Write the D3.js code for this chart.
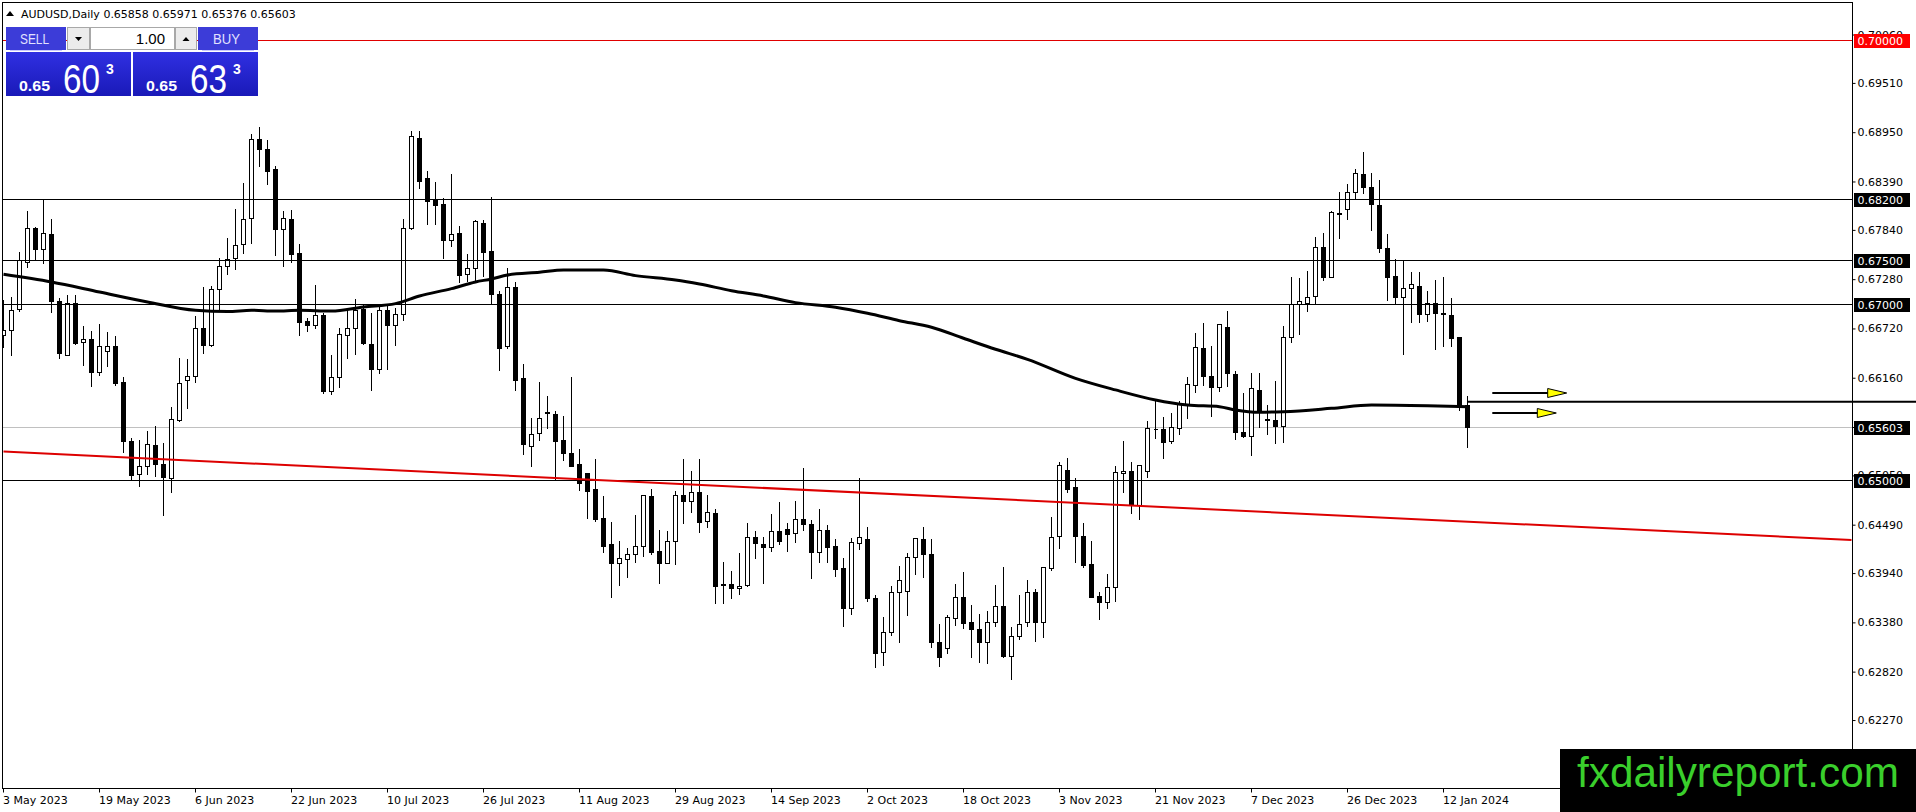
<!DOCTYPE html>
<html>
<head>
<meta charset="utf-8">
<script src="https://cdn.jsdelivr.net/npm/d3@7"></script>
<style>
  body { margin: 0; background: #fff; overflow: hidden; }
  svg { display: block; font-family: "DejaVu Sans", sans-serif; }
</style>
</head>
<body>
<svg id="chart"></svg>
<script>
// AUDUSD daily bars, 3 May 2023 .. 17 Jan 2024
const dateLabels = ["3 May 2023", "19 May 2023", "6 Jun 2023", "22 Jun 2023", "10 Jul 2023", "26 Jul 2023",
  "11 Aug 2023", "29 Aug 2023", "14 Sep 2023", "2 Oct 2023", "18 Oct 2023", "3 Nov 2023",
  "21 Nov 2023", "7 Dec 2023", "26 Dec 2023", "12 Jan 2024"];
const labelStep = 12;

const opens = [
  0.66648,0.66712,0.66947,0.67481,0.67871,0.67633,0.67803,0.67042,0.66428,0.67019,
  0.66576,0.66610,0.66231,0.66473,0.66530,0.66121,0.65447,0.65076,0.65167,0.65398,
  0.65189,0.65030,0.65689,0.66144,0.66189,0.66735,0.66542,0.67178,0.67436,0.67523,
  0.67689,0.67985,0.68875,0.68769,0.68534,0.67860,0.67973,0.67587,0.66807,0.66769,
  0.66883,0.66015,0.66174,0.66655,0.66735,0.66951,0.66553,0.66269,0.66932,0.66769,
  0.66886,0.67871,0.68894,0.68439,0.68193,0.68136,0.67735,0.67814,0.67348,0.67417,
  0.67928,0.67602,0.67114,0.66530,0.67193,0.66159,0.65394,0.65534,0.65780,0.65750,
  0.65458,0.65307,0.65182,0.65080,0.64902,0.64568,0.64277,0.64057,0.64102,0.64159,
  0.64254,0.64822,0.64197,0.64057,0.64314,0.64833,0.64769,0.64864,0.64542,0.64625,
  0.63818,0.63822,0.63780,0.63811,0.64360,0.64273,0.64239,0.64424,0.64443,0.64398,
  0.64557,0.64500,0.64182,0.64436,0.64254,0.64000,0.63545,0.64284,0.64333,0.63659,
  0.63045,0.63273,0.63727,0.63746,0.64125,0.64333,0.64163,0.63159,0.63091,0.63432,
  0.63670,0.63386,0.63307,0.63159,0.63386,0.63572,0.63002,0.63235,0.63386,0.63727,
  0.63394,0.64000,0.64371,0.65117,0.64920,0.64367,0.64049,0.63686,0.63614,0.63792,
  0.65080,0.65106,0.64720,0.65110,0.65587,0.65583,0.65447,0.65591,0.65856,0.66083,
  0.66500,0.66186,0.66064,0.66739,0.66205,0.65545,0.65508,0.66027,0.65697,0.65686,
  0.65621,0.66633,0.67000,0.67019,0.67095,0.67648,0.67314,0.68038,0.68080,0.68273,
  0.68481,0.68330,0.68129,0.67636,0.67322,0.67087,0.67182,0.67212,0.66886,0.67011,
  0.66898,0.66879,0.66625,0.65858
];
const highs = [
  0.67064,0.67091,0.67602,0.68068,0.67894,0.68212,0.67985,0.67083,0.67114,0.67121,
  0.66761,0.66705,0.66784,0.66701,0.66648,0.66182,0.65492,0.65473,0.65568,0.65625,
  0.65432,0.65841,0.66402,0.66394,0.66883,0.67205,0.67220,0.67538,0.67761,0.68098,
  0.68390,0.68951,0.69023,0.68875,0.68580,0.68076,0.68087,0.67697,0.66856,0.67235,
  0.66913,0.66432,0.66742,0.66932,0.67076,0.67015,0.66913,0.66989,0.66989,0.66970,
  0.67985,0.68977,0.68977,0.68523,0.68398,0.68220,0.68496,0.67905,0.67583,0.67973,
  0.67966,0.68231,0.67163,0.67420,0.67265,0.66330,0.65716,0.66129,0.65970,0.65799,
  0.65742,0.66186,0.65364,0.65080,0.65258,0.64833,0.64538,0.64322,0.64246,0.64617,
  0.64845,0.64917,0.64447,0.64436,0.64890,0.65258,0.65117,0.65258,0.64845,0.64682,
  0.64083,0.63981,0.64182,0.64530,0.64436,0.64371,0.64625,0.64765,0.64523,0.64777,
  0.65148,0.64561,0.64682,0.64500,0.64341,0.64133,0.64352,0.65034,0.64481,0.63708,
  0.63458,0.63811,0.64038,0.64189,0.64360,0.64481,0.64348,0.63383,0.63481,0.63830,
  0.63970,0.63595,0.63489,0.63527,0.63822,0.64027,0.63345,0.63705,0.63879,0.63780,
  0.64027,0.64595,0.65223,0.65269,0.65042,0.64523,0.64322,0.63742,0.63943,0.65174,
  0.65458,0.65223,0.65182,0.65686,0.65913,0.65731,0.65780,0.65913,0.66186,0.66682,
  0.66795,0.66538,0.66784,0.66936,0.66254,0.66000,0.66227,0.66227,0.65864,0.66140,
  0.66765,0.67322,0.67314,0.67390,0.67777,0.67818,0.68072,0.68288,0.68375,0.68553,
  0.68742,0.68508,0.68420,0.67814,0.67523,0.67515,0.67379,0.67379,0.67163,0.67288,
  0.67322,0.67087,0.66640,0.65971
];
const lows = [
  0.66515,0.66428,0.66924,0.67424,0.67500,0.67470,0.66913,0.66390,0.66420,0.66545,
  0.66314,0.66072,0.66201,0.66299,0.66087,0.65322,0.65011,0.64936,0.65068,0.65049,
  0.64610,0.64867,0.65670,0.65822,0.66117,0.66447,0.66523,0.66932,0.67348,0.67398,
  0.67583,0.67697,0.68572,0.68371,0.67557,0.67436,0.67481,0.66655,0.66697,0.66735,
  0.65992,0.65985,0.66061,0.66394,0.66439,0.66545,0.66023,0.66223,0.66269,0.66534,
  0.66826,0.67860,0.68322,0.67909,0.67917,0.67530,0.67663,0.67254,0.67265,0.67280,
  0.67322,0.67000,0.66254,0.66508,0.66027,0.65299,0.65167,0.65458,0.65591,0.65000,
  0.65231,0.65167,0.64890,0.64568,0.64542,0.64189,0.63678,0.63811,0.63905,0.64068,
  0.64144,0.64159,0.63837,0.64057,0.64045,0.64519,0.64644,0.64417,0.64473,0.63610,
  0.63602,0.63659,0.63708,0.63803,0.64114,0.63830,0.64201,0.64273,0.64201,0.64303,
  0.64436,0.63886,0.64068,0.64076,0.63913,0.63348,0.63481,0.64220,0.63633,0.62883,
  0.62902,0.63242,0.63159,0.63470,0.63932,0.63905,0.63102,0.62894,0.63034,0.63356,
  0.63318,0.62989,0.62939,0.62920,0.63345,0.62991,0.62742,0.63197,0.63345,0.63178,
  0.63216,0.63981,0.64227,0.64864,0.64068,0.64011,0.63670,0.63420,0.63545,0.63629,
  0.64864,0.64633,0.64557,0.65042,0.65477,0.65250,0.65428,0.65527,0.65705,0.66000,
  0.66083,0.65735,0.66019,0.66072,0.65470,0.65496,0.65288,0.65610,0.65527,0.65428,
  0.65439,0.66576,0.66663,0.66928,0.67011,0.67277,0.67314,0.67758,0.67970,0.68205,
  0.68269,0.67845,0.67598,0.67049,0.67000,0.66432,0.66803,0.66803,0.66811,0.66492,
  0.66530,0.66530,0.65799,0.65376
];
const closes = [
  0.66712,0.66939,0.67508,0.67871,0.67633,0.67814,0.67038,0.66447,0.67015,0.66561,
  0.66610,0.66231,0.66530,0.66530,0.66106,0.65447,0.65064,0.65167,0.65409,0.65189,
  0.65038,0.65701,0.66106,0.66189,0.66735,0.66542,0.67178,0.67436,0.67515,0.67678,
  0.67973,0.68875,0.68769,0.68515,0.67860,0.67985,0.67576,0.66799,0.66769,0.66883,
  0.66015,0.66174,0.66667,0.66735,0.66939,0.66561,0.66269,0.66932,0.66769,0.66886,
  0.67871,0.68909,0.68402,0.68174,0.68133,0.67735,0.67803,0.67330,0.67417,0.67943,
  0.67595,0.67114,0.66508,0.67193,0.66140,0.65409,0.65523,0.65705,0.65765,0.65451,
  0.65307,0.65167,0.64973,0.64883,0.64561,0.64258,0.64057,0.64114,0.64159,0.64254,
  0.64833,0.64189,0.64057,0.64311,0.64833,0.64769,0.64864,0.64530,0.64636,0.63803,
  0.63807,0.63773,0.63803,0.64360,0.64284,0.64239,0.64424,0.64314,0.64386,0.64557,
  0.64500,0.64182,0.64436,0.64246,0.63989,0.63545,0.64295,0.64352,0.63659,0.63034,
  0.63273,0.63727,0.63867,0.64125,0.64341,0.64159,0.63159,0.62989,0.63443,0.63670,
  0.63375,0.63307,0.63159,0.63386,0.63572,0.62998,0.63235,0.63364,0.63727,0.63394,
  0.64011,0.64360,0.65174,0.64902,0.64371,0.64038,0.63678,0.63621,0.63784,0.65091,
  0.65106,0.64720,0.65174,0.65591,0.65580,0.65439,0.65602,0.65864,0.66091,0.66511,
  0.66189,0.66064,0.66773,0.66216,0.65545,0.65508,0.66045,0.65792,0.65690,0.65621,
  0.66633,0.67000,0.67038,0.67080,0.67648,0.67314,0.68045,0.68030,0.68273,0.68489,
  0.68330,0.68136,0.67636,0.67314,0.67087,0.67182,0.67227,0.66886,0.67019,0.66898,
  0.66886,0.66621,0.65837,0.65603
];

// moving average, sampled along the drawn curve
const maBar = [0, 6, 12, 18, 24, 28, 31, 34, 37, 41, 45, 49, 52, 56, 59, 61, 63, 67, 70, 75, 79, 84, 87,
  91, 95, 99, 104, 108, 112, 116, 120, 124, 128, 134, 139, 144, 148, 152, 154, 157, 160, 166, 171, 178, 183];
const maValue = [0.67341, 0.67254, 0.67140, 0.67027, 0.66932, 0.66917, 0.66932, 0.66924, 0.66932, 0.66924,
  0.66970, 0.67008, 0.67095, 0.67178, 0.67254, 0.67288, 0.67333, 0.67364, 0.67390, 0.67390, 0.67326,
  0.67277, 0.67231, 0.67155, 0.67095, 0.67019, 0.66966, 0.66898, 0.66814, 0.66739, 0.66614, 0.66489,
  0.66375, 0.66159, 0.66027, 0.65913, 0.65856, 0.65837, 0.65799, 0.65773, 0.65780, 0.65818, 0.65856,
  0.65848, 0.65837];

const priceTicks = [0.70060, 0.69510, 0.68950, 0.68390, 0.67840, 0.67280, 0.66720, 0.66160, 0.65600,
  0.65050, 0.64490, 0.63940, 0.63380, 0.62820, 0.62270];
const blackLevels = [0.68200, 0.67500, 0.67000, 0.65000];
const redLevel = 0.70000;
const bidPrice = 0.65603;
const supportBar = 183;
const supportPrice = 0.65894;
const trendBars = [0, 231];
const trendPrices = [0.65326, 0.64322];
const arrowFrom = [186.1, 186.1];
const arrowTo = [195.4, 194.1];
const arrowPrices = [0.65995, 0.65765];
const header = "AUDUSD,Daily  0.65858 0.65971 0.65376 0.65603";

class CandleChart {
  constructor(_config) {
    this.config = {
      parentElement: _config.parentElement,
      containerWidth: _config.containerWidth || 1916,
      containerHeight: _config.containerHeight || 812,
      plot: { left: 2.5, top: 2.5, right: 1852.5, bottom: 788.5 }
    };
    this.bars = opens.map((o, i) => ({ i: i, o: o, h: highs[i], l: lows[i], c: closes[i] }));
    this.initVis();
  }

  initVis() {
    let vis = this;
    const p = vis.config.plot;

    vis.xScale = d3.scaleLinear().domain([0, labelStep]).range([3.5, 3.5 + 8 * labelStep]);
    vis.yScale = d3.scaleLinear().domain([0.65, 0.70]).range([480.3, 40.3]);
    const py = v => Math.round(vis.yScale(v)) + 0.5;

    vis.svg = d3.select(vis.config.parentElement)
      .attr('width', vis.config.containerWidth)
      .attr('height', vis.config.containerHeight);

    vis.svg.append('rect').attr('width', vis.config.containerWidth)
      .attr('height', vis.config.containerHeight).attr('fill', '#fff');

    vis.svg.append('clipPath').attr('id', 'plot-clip')
      .append('rect').attr('x', p.left + 0.5).attr('y', p.top + 0.5)
      .attr('width', p.right - p.left - 1).attr('height', p.bottom - p.top - 1);

    vis.chart = vis.svg.append('g').attr('clip-path', 'url(#plot-clip)');

    // bid line behind the bars
    vis.chart.append('line')
      .attr('x1', p.left).attr('x2', p.right)
      .attr('y1', py(bidPrice)).attr('y2', py(bidPrice))
      .attr('stroke', '#c0c0c0').attr('stroke-width', 1);

    // candles
    const candle = vis.chart.selectAll('.candle').data(vis.bars).join('g')
      .attr('class', 'candle').attr('shape-rendering', 'crispEdges');
    candle.append('line')
      .attr('x1', d => vis.xScale(d.i)).attr('x2', d => vis.xScale(d.i))
      .attr('y1', d => py(d.h)).attr('y2', d => py(d.l))
      .attr('stroke', '#000');
    candle.append('path')
      .attr('d', d => {
        const cx = vis.xScale(d.i);
        const t = py(Math.max(d.o, d.c)), b = py(Math.min(d.o, d.c));
        return `M${cx - 2},${t}H${cx + 2}V${b}H${cx - 2}Z`;
      })
      .attr('fill', d => d.c >= d.o ? '#fff' : '#000')
      .attr('stroke', '#000');

    // moving average
    vis.line = d3.line()
      .x(d => vis.xScale(d[0]))
      .y(d => vis.yScale(d[1]))
      .curve(d3.curveMonotoneX);
    vis.chart.append('path')
      .datum(maBar.map((b, k) => [b, maValue[k]]))
      .attr('fill', 'none').attr('stroke', '#000').attr('stroke-width', 3)
      .attr('d', vis.line);

    // horizontal levels
    vis.chart.selectAll('.level').data(blackLevels).join('line')
      .attr('class', 'level')
      .attr('x1', p.left).attr('x2', p.right)
      .attr('y1', d => py(d)).attr('y2', d => py(d))
      .attr('stroke', '#000').attr('stroke-width', 1);
    vis.chart.append('line')
      .attr('x1', p.left).attr('x2', p.right)
      .attr('y1', py(redLevel)).attr('y2', py(redLevel))
      .attr('stroke', '#e00000').attr('stroke-width', 1);

    // red trend line
    vis.chart.append('path')
      .datum(trendBars.map((b, k) => [b, trendPrices[k]]))
      .attr('fill', 'none').attr('stroke', '#dd0000').attr('stroke-width', 2)
      .attr('d', d3.line().x(d => vis.xScale(d[0])).y(d => vis.yScale(d[1])));

    // frame
    vis.svg.append('rect')
      .attr('x', p.left).attr('y', p.top)
      .attr('width', p.right - p.left).attr('height', p.bottom - p.top)
      .attr('fill', 'none').attr('stroke', '#000').attr('shape-rendering', 'crispEdges');

    // time axis
    vis.xAxis = d3.axisBottom(vis.xScale)
      .tickValues(dateLabels.map((d, k) => k * labelStep))
      .tickFormat((d, k) => dateLabels[k])
      .tickSize(4).tickSizeOuter(0).offset(0);
    vis.xAxisG = vis.svg.append('g')
      .attr('transform', `translate(0,${p.bottom})`)
      .call(vis.xAxis);
    vis.xAxisG.select('.domain').remove();
    vis.xAxisG.selectAll('line').attr('stroke', '#000');
    vis.xAxisG.selectAll('text')
      .attr('text-anchor', 'start').attr('x', -0.5).attr('y', 15.5).attr('dy', 0)
      .attr('fill', '#000').style('font-family', '"DejaVu Sans", sans-serif').style('font-size', '11px');

    // price axis
    vis.yAxis = d3.axisRight(vis.yScale)
      .tickValues(priceTicks)
      .tickFormat(d3.format('.5f'))
      .tickSize(3).tickSizeOuter(0).offset(0);
    vis.yAxisG = vis.svg.append('g')
      .attr('transform', `translate(${p.right},0)`)
      .call(vis.yAxis);
    vis.yAxisG.select('.domain').remove();
    vis.yAxisG.selectAll('line').attr('stroke', '#000');
    vis.yAxisG.selectAll('text')
      .attr('x', 5).attr('fill', '#000')
      .style('font-family', '"DejaVu Sans", sans-serif').style('font-size', '11px');

    // support line reaching over the price scale
    vis.svg.append('line')
      .attr('x1', vis.xScale(supportBar)).attr('x2', vis.config.containerWidth)
      .attr('y1', vis.yScale(supportPrice)).attr('y2', vis.yScale(supportPrice))
      .attr('stroke', '#000').attr('stroke-width', 2);

    // arrows
    arrowPrices.forEach((pr, k) => {
      const yy = Math.round(vis.yScale(pr));
      const x0 = vis.xScale(arrowFrom[k]), x1 = vis.xScale(arrowTo[k]);
      vis.svg.append('line')
        .attr('x1', x0).attr('x2', x1 - 18).attr('y1', yy).attr('y2', yy)
        .attr('stroke', '#000').attr('stroke-width', 2);
      vis.svg.append('polygon')
        .attr('points', `${x1 - 19},${yy - 4.5} ${x1},${yy} ${x1 - 19},${yy + 4.5}`)
        .attr('fill', '#ffff00').attr('stroke', '#000').attr('stroke-width', 1);
    });

    // level labels on the price scale
    const tags = blackLevels.map(v => ({ v: v, fill: '#000' }))
      .concat([{ v: bidPrice, fill: '#000' }, { v: redLevel, fill: '#ff0000' }]);
    const tag = vis.svg.selectAll('.tag').data(tags).join('g').attr('class', 'tag');
    tag.append('rect')
      .attr('x', p.right + 1.5).attr('width', 56)
      .attr('y', d => Math.round(vis.yScale(d.v)) - 6).attr('height', 14)
      .attr('fill', d => d.fill);
    tag.append('text')
      .attr('x', p.right + 5).attr('y', d => Math.round(vis.yScale(d.v)) + 5)
      .attr('fill', '#fff').style('font-size', '11px')
      .text(d => d3.format('.5f')(d.v));

    vis.drawHeader();
    vis.drawPanel();

    // watermark
    vis.svg.append('rect')
      .attr('x', 1560).attr('y', 749).attr('width', 356).attr('height', 63).attr('fill', '#000');
    vis.svg.append('text')
      .attr('x', 1577).attr('y', 787)
      .attr('textLength', 322).attr('lengthAdjust', 'spacingAndGlyphs')
      .style('font-family', '"Liberation Sans", Arial, sans-serif').style('font-size', '42px')
      .attr('fill', '#3acf2c')
      .text('fxdailyreport.com');
  }

  drawHeader() {
    let vis = this;
    vis.svg.append('polygon').attr('points', '6,16 14,16 10,11').attr('fill', '#000');
    vis.svg.append('text')
      .attr('x', 21).attr('y', 17.5)
      .style('font-size', '11px').attr('fill', '#000')
      .attr('xml:space', 'preserve')
      .text(header.replace('  ', ' '));
  }

  drawPanel() {
    let vis = this;
    const g = vis.svg.append('g').style('font-family', '"Liberation Sans", Arial, sans-serif');

    const grad = vis.svg.append('defs').append('linearGradient')
      .attr('id', 'price-grad').attr('x1', 0).attr('x2', 0).attr('y1', 0).attr('y2', 1);
    grad.append('stop').attr('offset', '0%').attr('stop-color', '#3030e2');
    grad.append('stop').attr('offset', '100%').attr('stop-color', '#1a1ab8');

    // top row
    g.append('rect').attr('x', 6).attr('y', 27).attr('width', 60).attr('height', 23).attr('fill', '#3c3cd8');
    g.append('rect').attr('x', 198).attr('y', 27).attr('width', 60).attr('height', 23).attr('fill', '#3c3cd8');
    g.append('line').attr('x1', 10).attr('x2', 62).attr('y1', 50.5).attr('y2', 50.5).attr('stroke', '#c8c8ff');
    g.append('line').attr('x1', 202).attr('x2', 254).attr('y1', 50.5).attr('y2', 50.5).attr('stroke', '#c8c8ff');
    g.append('text').attr('x', 20).attr('y', 44).attr('textLength', 29).attr('lengthAdjust', 'spacingAndGlyphs')
      .style('font-size', '15px').attr('fill', '#e2e2ff').text('SELL');
    g.append('text').attr('x', 213).attr('y', 44).attr('textLength', 27).attr('lengthAdjust', 'spacingAndGlyphs')
      .style('font-size', '15px').attr('fill', '#e2e2ff').text('BUY');

    g.append('rect').attr('x', 67.5).attr('y', 27.5).attr('width', 22).attr('height', 22)
      .attr('fill', '#ececec').attr('stroke', '#a8a8a8');
    g.append('polygon').attr('points', '75,37 82,37 78.5,41').attr('fill', '#000');
    g.append('rect').attr('x', 90.5).attr('y', 27.5).attr('width', 84).attr('height', 22)
      .attr('fill', '#fff').attr('stroke', '#a8a8a8');
    g.append('text').attr('x', 165).attr('y', 44).attr('text-anchor', 'end')
      .style('font-size', '15px').attr('fill', '#000').text('1.00');
    g.append('rect').attr('x', 175.5).attr('y', 27.5).attr('width', 21).attr('height', 22)
      .attr('fill', '#ececec').attr('stroke', '#a8a8a8');
    g.append('polygon').attr('points', '182.5,41 189.5,41 186,37').attr('fill', '#000');

    // price boxes
    const boxes = [
      { x: 6, small: '0.65', big: '60', sup: '3' },
      { x: 133, small: '0.65', big: '63', sup: '3' }
    ];
    boxes.forEach(b => {
      g.append('rect').attr('x', b.x).attr('y', 52).attr('width', 125).attr('height', 44)
        .attr('fill', 'url(#price-grad)');
      g.append('text').attr('x', b.x + 13).attr('y', 91).attr('textLength', 31).attr('lengthAdjust', 'spacingAndGlyphs')
        .style('font-size', '15px').style('font-weight', 'bold').attr('fill', '#fff').text(b.small);
      g.append('text').attr('x', b.x + 57).attr('y', 93).attr('textLength', 37).attr('lengthAdjust', 'spacingAndGlyphs')
        .style('font-size', '40px').attr('fill', '#fff').text(b.big);
      g.append('text').attr('x', b.x + 100).attr('y', 74)
        .style('font-size', '14px').style('font-weight', 'bold').attr('fill', '#fff').text(b.sup);
    });
  }
}

new CandleChart({ parentElement: '#chart' });
</script>
</body>
</html>
